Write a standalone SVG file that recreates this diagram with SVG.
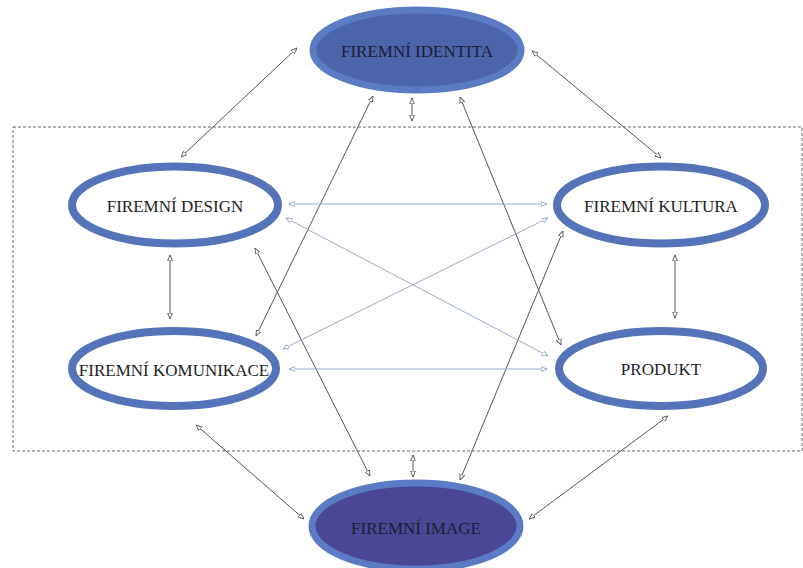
<svg xmlns="http://www.w3.org/2000/svg" width="803" height="568" viewBox="0 0 803 568">
<style>
.lbl{font-family:"Liberation Serif","Times New Roman",serif;font-size:17px;fill:#1e1e24;text-anchor:middle;dominant-baseline:central}
.dark{fill:#1c1d38}
.ring{fill:#fff;stroke:#5573b8;stroke-width:8}
.c{stroke:#555;stroke-width:1;fill:none;marker-start:url(#ah);marker-end:url(#ah)}
.b{stroke:#9aaad0;stroke-width:1;fill:none;marker-start:url(#ahb);marker-end:url(#ahb)}
</style>
<defs>
<marker id="ah" viewBox="0 0 10 10" refX="10" refY="5" markerWidth="6" markerHeight="6" markerUnits="userSpaceOnUse" orient="auto-start-reverse">
<path d="M0,1 L10,5 L0,9 Z" fill="#fff" stroke="#555" stroke-width="1.5"/>
</marker>
<marker id="ahb" viewBox="0 0 10 10" refX="10" refY="5" markerWidth="6" markerHeight="6" markerUnits="userSpaceOnUse" orient="auto-start-reverse">
<path d="M0,1 L10,5 L0,9 Z" fill="#fff" stroke="#8fa2cc" stroke-width="1.5"/>
</marker>
</defs>
<rect x="13" y="127" width="789" height="324" fill="none" stroke="#666" stroke-width="1" stroke-dasharray="3,2"/>
<g id="connectors">
<line class="c" x1="297" y1="48" x2="181" y2="157"/>
<line class="c" x1="532" y1="51" x2="661" y2="158"/>
<line class="c" x1="412" y1="98" x2="412" y2="121"/>
<line class="c" x1="373" y1="96" x2="256" y2="336"/>
<line class="c" x1="460" y1="97" x2="561" y2="345"/>
<line class="c" x1="170" y1="255" x2="170" y2="319"/>
<line class="c" x1="675" y1="255" x2="675" y2="318"/>
<line class="c" x1="255" y1="248" x2="370" y2="476"/>
<line class="c" x1="563" y1="231" x2="460" y2="480"/>
<line class="c" x1="413" y1="455" x2="413" y2="477"/>
<line class="c" x1="196" y1="425" x2="304" y2="519"/>
<line class="c" x1="668" y1="416" x2="529" y2="519"/>
<line class="b" x1="289" y1="204" x2="547" y2="204"/>
<line class="b" x1="289" y1="369" x2="547" y2="369"/>
<line class="b" x1="286" y1="218" x2="548" y2="356"/>
<line class="b" x1="283" y1="349" x2="548" y2="218"/>
</g>
<g id="identita">
<ellipse cx="417" cy="50" rx="104" ry="40" fill="#4b64aa" stroke="#5b7bc4" stroke-width="7"/>
<text class="lbl dark" x="417" y="51">FIREMNÍ IDENTITA</text>
</g>
<g id="design">
<ellipse class="ring" cx="175" cy="205" rx="103" ry="38.5"/>
<text class="lbl" x="175" y="206">FIREMNÍ DESIGN</text>
</g>
<g id="kultura">
<ellipse class="ring" cx="661" cy="205" rx="104" ry="38.5"/>
<text class="lbl" x="661" y="206">FIREMNÍ KULTURA</text>
</g>
<g id="komunikace">
<ellipse class="ring" cx="174" cy="368.5" rx="102" ry="37.5"/>
<text class="lbl" x="174" y="370">FIREMNÍ KOMUNIKACE</text>
</g>
<g id="produkt">
<ellipse class="ring" cx="661" cy="368.5" rx="102" ry="37.5"/>
<text class="lbl" x="661" y="369">PRODUKT</text>
</g>
<g id="image">
<ellipse cx="416" cy="526" rx="104" ry="43" fill="#4a4795" stroke="#5b7bc4" stroke-width="7"/>
<text class="lbl dark" x="416" y="528">FIREMNÍ IMAGE</text>
</g>
</svg>
